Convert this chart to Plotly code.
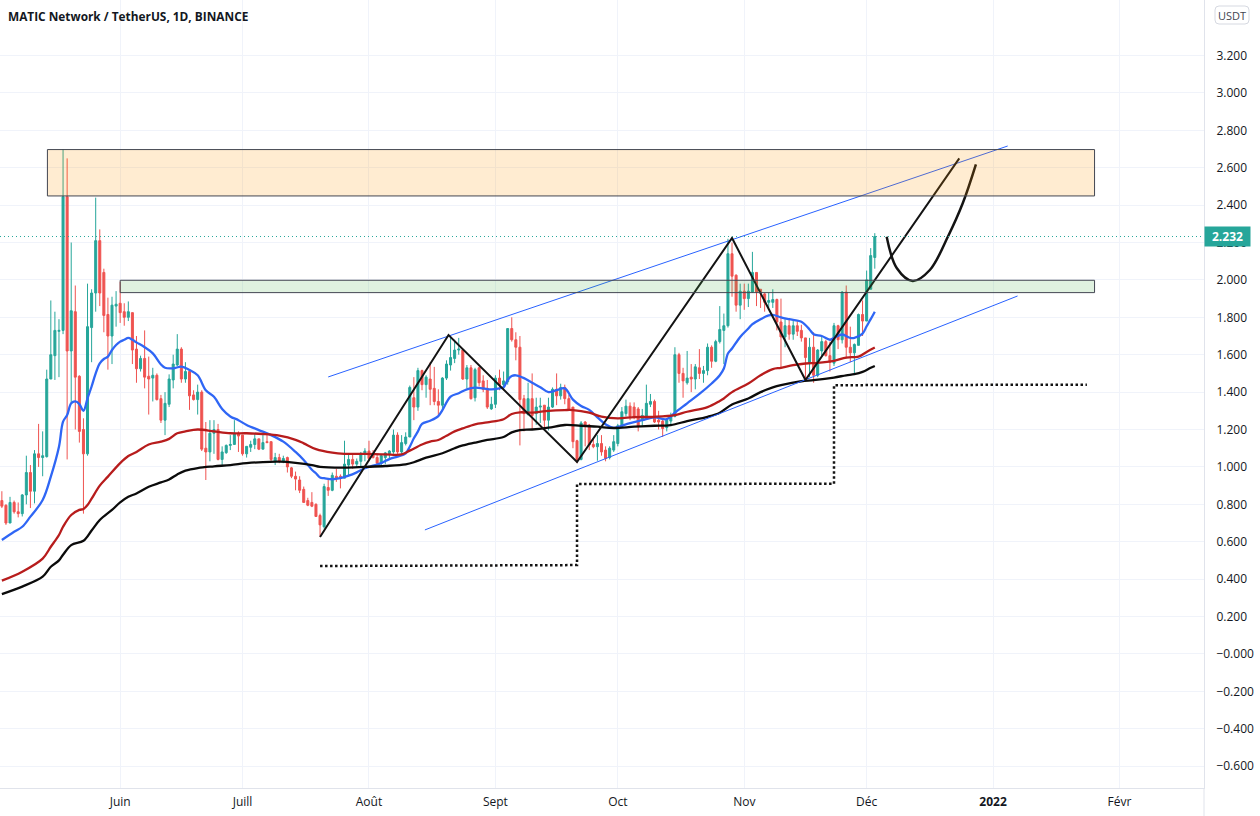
import pandas as pd
import plotly.graph_objects as go

# candles, one row per month
opens = [
    .82, .795, .70, .81, .76, .75, .85, .97, .87, 1.07, 1.05, 1.055, 1.47, 1.595, 1.725, 1.73, 2.445, 1.62, 1.83, 1.485, 1.20, 1.07, 1.745, 1.93, 2.21, 2.04, 1.815, 1.70, 1.86,
    1.875, 1.83, 1.80, 1.825, 1.63, 1.525, 1.58, 1.485, 1.475, 1.49, 1.365, 1.25, 1.335, 1.465, 1.545, 1.63, 1.47, 1.51, 1.385, 1.36, 1.40, 1.10, 1.08, 1.18, 1.20, 1.04, 1.076, 1.115, 1.12, 1.18,
    1.17, 1.07, 1.105, 1.12, 1.15, 1.095, 1.135, 1.135, 1.03, 1.05, 1.03, 1.05, .995, .95, .93, .88, .82, .81, .80, .74, .68, .89, .875, .95, .95, .94, 1.01, 1.04, 1.015, 1.03, 1.07,
    1.085, 1.07, 1.05, 1.02, 1.05, 1.07, 1.08, 1.17, 1.08, 1.125, 1.16, 1.37, 1.32, 1.515, 1.44, 1.47, 1.42, 1.35, 1.33, 1.475, 1.545, 1.58, 1.625, 1.625, 1.47, 1.53, 1.37, 1.53, 1.46, 1.42, 1.31,
    1.335, 1.475, 1.44, 1.455, 1.74, 1.68, 1.64, 1.365, 1.28, 1.365, 1.285, 1.32, 1.33, 1.25, 1.32, 1.415, 1.38, 1.425, 1.365, 1.32, 1.14, 1.04, 1.24, 1.224, 1.12, 1.108, 1.125, 1.09, 1.05, 1.09,
    1.125, 1.215, 1.285, 1.325, 1.32, 1.31, 1.25, 1.27, 1.335, 1.35, 1.25, 1.245, 1.21, 1.245, 1.27, 1.60, 1.50, 1.45, 1.48, 1.47, 1.53, 1.50, 1.515, 1.64, 1.565, 1.67, 1.73, 1.755, 2.14, 2.025, 1.865,
    1.94, 1.90, 1.935, 2.04, 1.95, 1.925, 1.88, 1.88, 1.895, 1.775, 1.695, 1.755, 1.71, 1.755, 1.73, 1.69, 1.555, 1.64, 1.49, 1.62, 1.67, 1.595, 1.555, 1.755, 1.68, 1.935, 1.64, 1.61, 1.65, 1.815,
    1.78, 1.95, 2.12,
]
closes = [
    .79, .70, .81, .76, .75, .85, .97, .87, 1.07, 1.05, 1.06, 1.47, 1.60, 1.73, 1.73, 2.445, 1.62, 1.835, 1.48, 1.19, 1.07, 1.75, 1.93, 2.21, 1.93, 1.81, 1.70, 1.865, 1.87,
    1.825, 1.80, 1.83, 1.625, 1.525, 1.58, 1.48, 1.47, 1.49, 1.36, 1.25, 1.34, 1.47, 1.55, 1.63, 1.47, 1.51, 1.38, 1.36, 1.40, 1.095, 1.08, 1.18, 1.20, 1.04, 1.08, 1.115, 1.12, 1.18, 1.165,
    1.07, 1.11, 1.12, 1.15, 1.095, 1.13, 1.13, 1.04, 1.05, 1.03, 1.045, 1.00, .95, .935, .875, .81, .795, .79, .735, .69, .895, .875, .955, .94, .94, 1.015, 1.04, 1.015, 1.03, 1.07, 1.085,
    1.045, 1.05, 1.02, 1.06, 1.075, 1.085, 1.17, 1.08, 1.13, 1.16, 1.425, 1.32, 1.515, 1.44, 1.48, 1.415, 1.35, 1.33, 1.475, 1.55, 1.585, 1.625, 1.63, 1.47, 1.53, 1.365, 1.52, 1.45, 1.415, 1.32, 1.335,
    1.475, 1.44, 1.46, 1.74, 1.68, 1.64, 1.36, 1.285, 1.365, 1.275, 1.32, 1.325, 1.25, 1.32, 1.415, 1.38, 1.425, 1.365, 1.31, 1.135, 1.035, 1.235, 1.225, 1.117, 1.108, 1.125, 1.08, 1.045, 1.10, 1.135,
    1.22, 1.295, 1.325, 1.27, 1.27, 1.215, 1.275, 1.34, 1.35, 1.24, 1.24, 1.205, 1.25, 1.27, 1.60, 1.50, 1.46, 1.475, 1.47, 1.535, 1.50, 1.515, 1.64, 1.565, 1.67, 1.735, 1.755, 2.14, 2.02, 1.865, 1.94,
    1.90, 1.94, 2.04, 1.935, 1.93, 1.88, 1.89, 1.895, 1.775, 1.695, 1.755, 1.71, 1.755, 1.725, 1.69, 1.585, 1.64, 1.49, 1.625, 1.67, 1.595, 1.56, 1.755, 1.68, 1.935, 1.64, 1.61, 1.655, 1.815, 1.78,
    2.00, 2.13, 2.232,
]
highs = [
    .87, .80, .84, .82, .81, .855, 1.06, 1.01, 1.09, 1.23, 1.19, 1.52, 1.89, 1.83, 1.79, 2.70, 2.65, 2.20, 1.97, 1.49, 1.26, 1.98, 1.95, 2.44, 2.27, 2.06, 1.905, 1.91, 1.94,
    1.99, 1.875, 1.885, 1.825, 1.70, 1.595, 1.73, 1.59, 1.53, 1.50, 1.385, 1.40, 1.495, 1.60, 1.71, 1.64, 1.56, 1.515, 1.41, 1.44, 1.41, 1.24, 1.25, 1.25, 1.23, 1.11, 1.12, 1.17, 1.25, 1.19,
    1.17, 1.11, 1.14, 1.18, 1.15, 1.17, 1.18, 1.135, 1.075, 1.07, 1.06, 1.055, 1.00, .975, .95, .895, .835, .865, .805, .75, .91, .94, .97, .99, .96, 1.14, 1.07, 1.07, 1.045, 1.08, 1.10,
    1.14, 1.09, 1.065, 1.07, 1.08, 1.09, 1.20, 1.185, 1.17, 1.185, 1.435, 1.48, 1.53, 1.52, 1.49, 1.56, 1.535, 1.415, 1.48, 1.57, 1.70, 1.68, 1.69, 1.63, 1.545, 1.545, 1.53, 1.535, 1.49, 1.465, 1.375,
    1.49, 1.52, 1.51, 1.74, 1.80, 1.72, 1.70, 1.385, 1.45, 1.50, 1.37, 1.37, 1.33, 1.37, 1.425, 1.50, 1.445, 1.44, 1.385, 1.32, 1.145, 1.245, 1.245, 1.23, 1.15, 1.17, 1.17, 1.11, 1.11, 1.17,
    1.23, 1.32, 1.36, 1.345, 1.345, 1.32, 1.31, 1.44, 1.39, 1.36, 1.30, 1.26, 1.26, 1.29, 1.64, 1.61, 1.53, 1.62, 1.55, 1.55, 1.63, 1.54, 1.66, 1.65, 1.68, 1.86, 1.82, 2.22, 2.20, 2.03, 1.98,
    1.98, 1.98, 2.15, 2.04, 1.95, 1.93, 1.93, 1.95, 1.90, 1.90, 1.79, 1.79, 1.78, 1.78, 1.76, 1.69, 1.69, 1.72, 1.63, 1.70, 1.68, 1.67, 1.77, 1.76, 1.94, 1.97, 1.75, 1.66, 1.82, 1.89,
    2.05, 2.17, 2.25,
]
lows = [
    .78, .69, .70, .75, .73, .735, .80, .78, .805, 1.00, .95, 1.05, 1.47, 1.465, 1.48, 1.71, 1.04, 1.34, 1.20, 1.13, .75, 1.06, 1.56, 1.83, 1.86, 1.72, 1.52, 1.55, 1.75,
    1.77, 1.755, 1.78, 1.55, 1.45, 1.51, 1.42, 1.28, 1.35, 1.355, 1.235, 1.17, 1.32, 1.42, 1.54, 1.45, 1.45, 1.305, 1.355, 1.28, 1.085, .93, 1.03, 1.07, 1.035, 1.01, 1.07, 1.09, 1.12, 1.08,
    1.06, 1.05, 1.08, 1.095, 1.09, 1.095, 1.13, 1.03, 1.01, 1.02, 1.02, .97, .94, .875, .86, .81, .79, .785, .735, .627, .67, .845, .87, .92, .885, .94, .95, .99, .995, 1.00, 1.03,
    1.03, 1.045, 1.01, 1.01, 1.015, 1.045, 1.07, 1.07, 1.07, 1.115, 1.16, 1.25, 1.30, 1.41, 1.37, 1.33, 1.33, 1.275, 1.305, 1.465, 1.515, 1.555, 1.60, 1.465, 1.42, 1.36, 1.35, 1.43, 1.40, 1.31, 1.305,
    1.315, 1.41, 1.41, 1.44, 1.67, 1.57, 1.115, 1.19, 1.275, 1.20, 1.225, 1.235, 1.20, 1.195, 1.315, 1.33, 1.36, 1.335, 1.31, 1.10, 1.02, 1.035, 1.11, 1.09, 1.10, 1.033, 1.06, 1.03, 1.04, 1.08,
    1.11, 1.21, 1.27, 1.25, 1.255, 1.19, 1.22, 1.26, 1.32, 1.235, 1.20, 1.16, 1.19, 1.22, 1.265, 1.45, 1.37, 1.44, 1.40, 1.415, 1.47, 1.45, 1.49, 1.53, 1.56, 1.66, 1.55, 1.745, 1.91, 1.83, 1.79,
    1.84, 1.855, 1.93, 1.86, 1.85, 1.83, 1.85, 1.85, 1.73, 1.53, 1.64, 1.68, 1.68, 1.70, 1.67, 1.46, 1.48, 1.45, 1.48, 1.59, 1.59, 1.51, 1.54, 1.63, 1.66, 1.58, 1.56, 1.50, 1.65, 1.70,
    1.78, 1.95, 2.06,
]
days = pd.date_range("2021-05-03", periods=len(opens))

# moving averages
blue_dates = ["2021-05-03", "2021-05-06", "2021-05-08", "2021-05-10", "2021-05-13", "2021-05-15", "2021-05-17", "2021-05-18", "2021-05-19", "2021-05-20", "2021-05-21", "2021-05-22", "2021-05-23", "2021-05-24", "2021-05-25", "2021-05-26", "2021-05-27", "2021-05-28", "2021-05-29", "2021-05-30", "2021-05-31", "2021-06-01", "2021-06-02", "2021-06-03", "2021-06-04", "2021-06-05", "2021-06-07", "2021-06-09", "2021-06-11", "2021-06-12", "2021-06-14", "2021-06-16", "2021-06-18", "2021-06-20", "2021-06-22", "2021-06-24", "2021-06-26", "2021-06-28", "2021-06-30", "2021-07-02", "2021-07-05", "2021-07-08", "2021-07-11", "2021-07-14", "2021-07-16", "2021-07-18", "2021-07-19", "2021-07-20", "2021-07-21", "2021-07-23", "2021-07-25", "2021-07-27", "2021-07-29", "2021-07-31", "2021-08-02", "2021-08-04", "2021-08-06", "2021-08-08", "2021-08-10", "2021-08-11", "2021-08-12", "2021-08-13", "2021-08-14", "2021-08-16", "2021-08-18", "2021-08-19", "2021-08-21", "2021-08-23", "2021-08-25", "2021-08-27", "2021-08-29", "2021-08-31", "2021-09-02", "2021-09-03", "2021-09-04", "2021-09-05", "2021-09-06", "2021-09-08", "2021-09-10", "2021-09-12", "2021-09-14", "2021-09-16", "2021-09-18", "2021-09-20", "2021-09-22", "2021-09-24", "2021-09-26", "2021-09-28", "2021-09-30", "2021-10-03", "2021-10-05", "2021-10-07", "2021-10-10", "2021-10-13", "2021-10-15", "2021-10-18", "2021-10-21", "2021-10-24", "2021-10-26", "2021-10-27", "2021-10-28", "2021-10-29", "2021-10-31", "2021-11-02", "2021-11-03", "2021-11-05", "2021-11-07", "2021-11-08", "2021-11-10", "2021-11-12", "2021-11-15", "2021-11-17", "2021-11-18", "2021-11-20", "2021-11-22", "2021-11-23", "2021-11-25", "2021-11-27", "2021-11-28", "2021-11-30", "2021-12-01", "2021-12-02", "2021-12-03"]
blue_values = [.609, .653, .68, .734, .823, .948, 1.108, 1.242, 1.277, 1.34, 1.35, 1.336, 1.30, 1.367, 1.43, 1.50, 1.554, 1.577, 1.59, 1.625, 1.652, 1.67, 1.68, 1.69, 1.68, 1.666, 1.64, 1.607, 1.548, 1.53, 1.527, 1.536, 1.518, 1.49, 1.41, 1.375, 1.31, 1.27, 1.25, 1.224, 1.197, 1.17, 1.135, 1.08, 1.037, .985, .966, .943, .94, .934, .94, .953, .971, .993, 1.007, 1.02, 1.042, 1.055, 1.073, 1.108, 1.153, 1.19, 1.23, 1.247, 1.272, 1.304, 1.376, 1.394, 1.415, 1.424, 1.42, 1.415, 1.42, 1.426, 1.465, 1.486, 1.49, 1.475, 1.45, 1.426, 1.40, 1.41, 1.42, 1.36, 1.326, 1.305, 1.265, 1.228, 1.209, 1.228, 1.24, 1.25, 1.265, 1.255, 1.29, 1.34, 1.39, 1.446, 1.49, 1.526, 1.606, 1.633, 1.695, 1.74, 1.763, 1.79, 1.81, 1.813, 1.80, 1.79, 1.776, 1.735, 1.71, 1.70, 1.68, 1.69, 1.708, 1.69, 1.69, 1.713, 1.752, 1.79, 1.83]

red_dates = ["2021-05-03", "2021-05-08", "2021-05-13", "2021-05-15", "2021-05-17", "2021-05-18", "2021-05-20", "2021-05-22", "2021-05-23", "2021-05-24", "2021-05-25", "2021-05-27", "2021-05-29", "2021-06-01", "2021-06-03", "2021-06-05", "2021-06-08", "2021-06-11", "2021-06-13", "2021-06-15", "2021-06-17", "2021-06-20", "2021-06-24", "2021-06-28", "2021-07-02", "2021-07-06", "2021-07-10", "2021-07-14", "2021-07-16", "2021-07-19", "2021-07-23", "2021-07-26", "2021-07-31", "2021-08-05", "2021-08-09", "2021-08-11", "2021-08-14", "2021-08-16", "2021-08-18", "2021-08-20", "2021-08-22", "2021-08-24", "2021-08-27", "2021-08-30", "2021-09-03", "2021-09-05", "2021-09-07", "2021-09-10", "2021-09-14", "2021-09-18", "2021-09-20", "2021-09-24", "2021-09-27", "2021-10-01", "2021-10-05", "2021-10-10", "2021-10-15", "2021-10-18", "2021-10-23", "2021-10-26", "2021-10-27", "2021-10-29", "2021-11-02", "2021-11-05", "2021-11-08", "2021-11-10", "2021-11-13", "2021-11-16", "2021-11-19", "2021-11-23", "2021-11-26", "2021-11-29", "2021-12-01", "2021-12-03"]
red_values = [.392, .44, .51, .573, .636, .68, .743, .77, .775, .796, .83, .90, .948, 1.02, 1.058, 1.08, 1.12, 1.135, 1.15, 1.18, 1.19, 1.20, 1.19, 1.18, 1.18, 1.176, 1.167, 1.145, 1.126, 1.095, 1.076, 1.07, 1.07, 1.067, 1.067, 1.087, 1.12, 1.135, 1.144, 1.167, 1.19, 1.206, 1.228, 1.238, 1.255, 1.283, 1.292, 1.29, 1.30, 1.304, 1.304, 1.29, 1.269, 1.26, 1.266, 1.268, 1.277, 1.295, 1.32, 1.353, 1.366, 1.40, 1.446, 1.49, 1.523, 1.53, 1.544, 1.553, 1.556, 1.567, 1.585, 1.59, 1.615, 1.638]

black_dates = ["2021-05-03", "2021-05-08", "2021-05-13", "2021-05-15", "2021-05-17", "2021-05-18", "2021-05-20", "2021-05-23", "2021-05-25", "2021-05-27", "2021-05-30", "2021-06-01", "2021-06-03", "2021-06-05", "2021-06-08", "2021-06-11", "2021-06-13", "2021-06-15", "2021-06-17", "2021-06-20", "2021-06-24", "2021-06-28", "2021-07-02", "2021-07-06", "2021-07-10", "2021-07-14", "2021-07-18", "2021-07-20", "2021-07-26", "2021-07-31", "2021-08-05", "2021-08-10", "2021-08-12", "2021-08-15", "2021-08-19", "2021-08-22", "2021-08-24", "2021-08-27", "2021-08-30", "2021-09-03", "2021-09-05", "2021-09-07", "2021-09-10", "2021-09-14", "2021-09-18", "2021-09-22", "2021-09-26", "2021-09-30", "2021-10-05", "2021-10-10", "2021-10-14", "2021-10-18", "2021-10-23", "2021-10-26", "2021-10-29", "2021-11-02", "2021-11-05", "2021-11-08", "2021-11-10", "2021-11-15", "2021-11-18", "2021-11-23", "2021-11-26", "2021-11-28", "2021-11-30", "2021-12-02", "2021-12-03"]
black_values = [.32, .36, .413, .466, .50, .53, .582, .605, .66, .716, .77, .81, .84, .858, .894, .917, .933, .96, .98, .994, 1.003, 1.01, 1.02, 1.026, 1.028, 1.022, 1.01, 1.00, .996, 1.00, 1.005, 1.014, 1.025, 1.05, 1.073, 1.10, 1.115, 1.13, 1.144, 1.16, 1.185, 1.197, 1.20, 1.21, 1.224, 1.22, 1.215, 1.208, 1.215, 1.22, 1.224, 1.245, 1.268, 1.29, 1.334, 1.366, 1.40, 1.425, 1.437, 1.458, 1.464, 1.478, 1.49, 1.496, 1.508, 1.53, 1.54]

# drawings on top of the chart
zigzag_dates = ["2021-07-20", "2021-08-20 12:00", "2021-09-21", "2021-10-29", "2021-11-16", "2021-12-23 17:00"]
zigzag_prices = [.625, 1.705, 1.026, 2.224, 1.465, 2.65]
upper_dates = ["2021-07-22", "2022-01-04 14:00"]
upper_prices = [1.481, 2.716]
lower_dates = ["2021-08-14 17:00", "2022-01-07"]
lower_prices = [.663, 1.914]
steps_dates = ["2021-07-20", "2021-09-21", "2021-09-21", "2021-11-23", "2021-11-23", "2022-01-24"]
steps_prices = [.47, .475, .908, .91, 1.437, 1.44]
curve_dates = ["2021-12-05 22:00", "2021-12-08 10:00", "2021-12-12 07:00", "2021-12-16 12:00", "2021-12-20 22:00", "2021-12-24 14:00", "2021-12-27 19:00"]
curve_prices = [2.231, 2.062, 1.994, 2.053, 2.231, 2.411, 2.618]
orange_zone = ["2021-05-14 04:00", "2022-01-25 21:00", 2.449, 2.697]
green_zone = ["2021-06-01", "2022-01-25 21:00", 1.932, 1.998]
last_price = 2.232

price_ticks = [-.6, -.4, -.2, 0, .2, .4, .6, .8, 1, 1.2, 1.4, 1.6, 1.8, 2, 2.2, 2.4, 2.6, 2.8, 3, 3.2]
price_labels = ["\u22120.600", "\u22120.400", "\u22120.200", "\u22120.000", "0.200", "0.400", "0.600", "0.800", "1.000", "1.200", "1.400", "1.600", "1.800", "2.000", "2.200", "2.400", "2.600", "2.800", "3.000", "3.200"]
month_ticks = ["2021-06-01", "2021-07-01", "2021-08-01", "2021-09-01", "2021-10-01", "2021-11-01", "2021-12-01", "2022-01-01", "2022-02-01"]
month_labels = ["Juin", "Juill", "Août", "Sept", "Oct", "Nov", "Déc", "<b>2022</b>", "Févr"]

FONT = "Open Sans"
TEXT = "#131722"
GRID = "#F0F3FA"
BORDER = "#E0E3EB"

fig = go.Figure()
fig.add_trace(go.Candlestick(
    x=days, open=opens, high=highs, low=lows, close=closes,
    increasing=dict(line=dict(color="#26A69A", width=1), fillcolor="#26A69A"),
    decreasing=dict(line=dict(color="#EF5350", width=1), fillcolor="#EF5350"),
    whiskerwidth=0,
))


def add_line(x, y, color, width, dash="solid", shape="linear"):
    fig.add_trace(go.Scatter(x=x, y=y, mode="lines", line=dict(color=color, width=width, dash=dash, shape=shape), hoverinfo="skip"))


add_line(blue_dates, blue_values, "#2F66F5", 2.3, shape="spline")
add_line(red_dates, red_values, "#B71C1C", 2.3, shape="spline")
add_line(black_dates, black_values, "#0B0B0B", 2.3, shape="spline")
add_line(upper_dates, upper_prices, "#2962FF", 1)
add_line(lower_dates, lower_prices, "#2962FF", 1)
add_line(zigzag_dates, zigzag_prices, "#131313", 2)
add_line(curve_dates, curve_prices, "#131313", 2.5, shape="spline")
add_line(steps_dates, steps_prices, "#131313", 2.5, dash="2.5px,2.5px")

for zone, fill in [(orange_zone, "rgba(255,152,0,0.18)"), (green_zone, "rgba(76,175,80,0.18)")]:
    fig.add_shape(type="rect", x0=zone[0], x1=zone[1], y0=zone[2], y1=zone[3],
                  fillcolor=fill, line=dict(color="#434651", width=1), layer="above")

# last price line and its tag
fig.add_shape(type="line", xref="paper", x0=0, x1=1, y0=last_price, y1=last_price,
              line=dict(color="#26A69A", width=1, dash="1px,3px"))
fig.add_annotation(xref="paper", x=1, y=last_price, xanchor="left", yanchor="middle", showarrow=False,
                   text="<b>2.232</b>", width=43, height=17, bgcolor="#26A69A", align="center",
                   font=dict(family=FONT, size=12, color="white"))

# separator under the price scale, and the unit box
fig.add_shape(type="line", xref="paper", yref="paper", x0=1, x1=1, y0=0, y1=-0.036, line=dict(color=BORDER, width=1))
box_l, box_r, box_t, box_b, box_c = 1215 / 1204, 1249 / 1204, 1 - 6 / 788, 1 - 24 / 788, 4
rx, ry = box_c / 1204, box_c / 788
fig.add_shape(type="path", xref="paper", yref="paper", line=dict(color="#D6D9E1", width=1),
              path=f"M {box_l + rx} {box_t} L {box_r - rx} {box_t} Q {box_r} {box_t} {box_r} {box_t - ry} "
                   f"L {box_r} {box_b + ry} Q {box_r} {box_b} {box_r - rx} {box_b} L {box_l + rx} {box_b} "
                   f"Q {box_l} {box_b} {box_l} {box_b + ry} L {box_l} {box_t - ry} Q {box_l} {box_t} {box_l + rx} {box_t} Z")
fig.add_annotation(xref="paper", yref="paper", x=1232 / 1204, y=1 - 15 / 788, xanchor="center", yanchor="middle", showarrow=False, text="USDT",
                   font=dict(family=FONT, size=11, color="#434651"))
fig.add_annotation(xref="paper", yref="paper", x=6 / 1204, y=1 - 16 / 788, xanchor="left", yanchor="middle", showarrow=False,
                   text="<b>MATIC Network / TetherUS, 1D, BINANCE</b>", font=dict(family=FONT, size=11.85, color=TEXT))

fig.update_layout(
    width=1260, height=816,
    margin=dict(l=0, r=56, t=0, b=28),
    paper_bgcolor="white", plot_bgcolor="white",
    showlegend=False,
    font=dict(family=FONT, size=12, color=TEXT),
    xaxis=dict(
        type="date", range=["2021-05-02 13:00", "2022-02-21 17:00"], rangeslider=dict(visible=False),
        tickmode="array", tickvals=month_ticks, ticktext=month_labels, tickangle=0,
        showgrid=True, gridcolor=GRID, zeroline=False,
        showline=True, linecolor=BORDER, ticks="outside", ticklen=3, tickcolor="rgba(0,0,0,0)",
    ),
    yaxis=dict(
        side="right", range=[-0.717, 3.4968],
        tickmode="array", tickvals=price_ticks, ticktext=price_labels,
        showgrid=True, gridcolor=GRID, zeroline=False,
        showline=True, linecolor=BORDER, ticks="outside", ticklen=9, tickcolor="rgba(0,0,0,0)",
    ),
)

fig.write_html("out.html", config={"displayModeBar": False},
               post_script="document.body.style.margin='0';document.body.style.overflow='hidden';")
